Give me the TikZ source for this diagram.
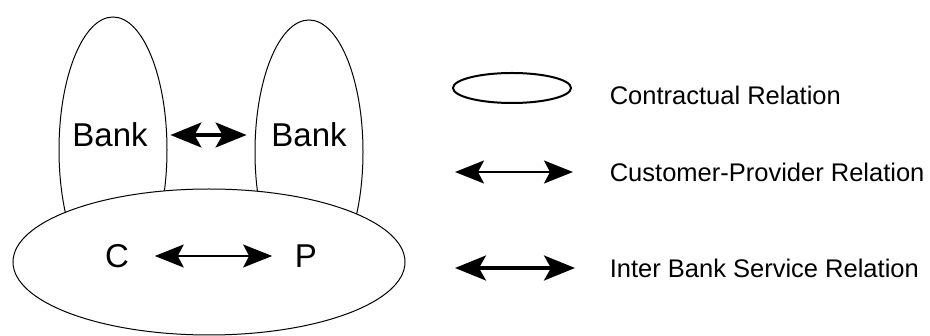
\documentclass[tikz,border=0pt]{standalone}
\usepackage{fontspec}
\setmainfont{Liberation Sans}
\usetikzlibrary{arrows.meta, positioning}

\tikzset{
	big/.style={font=\fontsize{33}{38}\selectfont},
	small/.style={font=\fontsize{25.5}{30}\selectfont, anchor=west},
	cprel/.style={line width=2pt, {Stealth[length=29pt, width=23pt, inset=6pt]}-{Stealth[length=29pt, width=23pt, inset=6pt]}},
	bankrel/.style={line width=3.2pt, {Stealth[length=31pt, width=25pt, inset=7pt]}-{Stealth[length=31pt, width=25pt, inset=7pt]}}
}

\begin{document}
\begin{tikzpicture}[x=1pt, y=-1pt, line width=1pt]
	\useasboundingbox (0,0) rectangle (930,336);

	% the two banks, partly covered by the contract
	\draw (113,150) ellipse [x radius=54, y radius=133];
	\draw (309,152) ellipse [x radius=54, y radius=132];
	\draw[fill=white] (209,262) ellipse [x radius=196, y radius=73];

	\node[big] (bank1) at (110,135) {Bank};
	\node[big] (bank2) at (309,135) {Bank};
	\node[big] (c) at (117,256) {C};
	\node[big] (p) at (306,256) {P};

	\draw[bankrel, shorten <=19pt, shorten >=21pt] (bank1) -- (bank2);
	\draw[cprel, shorten <=22pt, shorten >=19pt] (c) -- (p);

	% legend
	\draw[line width=2pt] (512,88) ellipse [x radius=59, y radius=15];
	\coordinate (l2a) at (455,172);
	\coordinate (l2b) at (573,172);
	\coordinate (l3a) at (455,268);
	\coordinate (l3b) at (575,268);
	\draw[cprel] (l2a) -- (l2b);
	\draw[bankrel] (l3a) -- (l3b);

	\node[small] (leg1) at (606,95) {Contractual Relation};
	\node[small] (leg2) at (606,172) {Customer-Provider Relation};
	\node[small] (leg3) at (606,268) {Inter Bank Service Relation};
\end{tikzpicture}
\end{document}
